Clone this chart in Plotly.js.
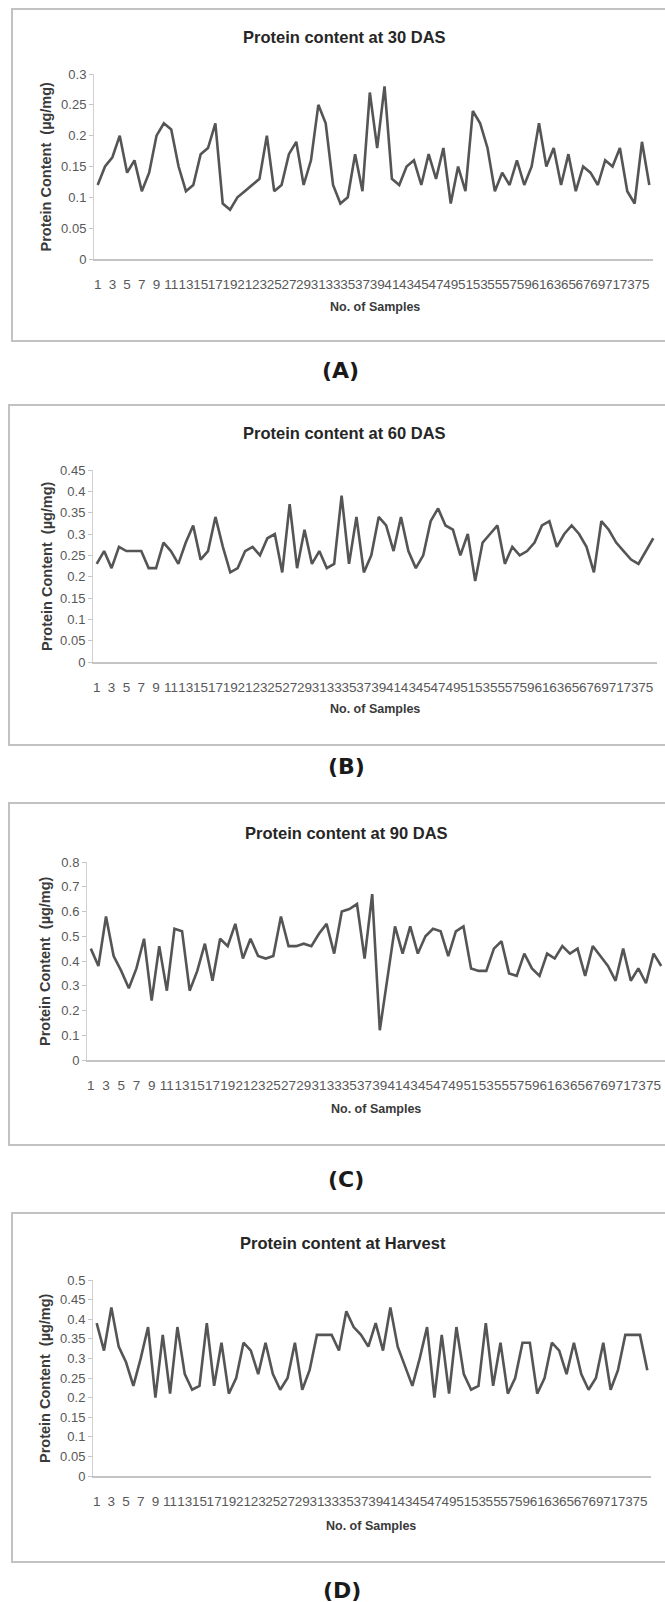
<!DOCTYPE html>
<html>
<head>
<meta charset="utf-8">
<script src="https://cdn.plot.ly/plotly-3.0.1.min.js"></script>
<style>
html,body{margin:0;padding:0;background:#fff;}
#chart{width:665px;height:1602px;}
</style>
</head>
<body>
<div id="chart"></div>
<script>
// ---- data ----
const samples = [1,2,3,4,5,6,7,8,9,10,11,12,13,14,15,16,17,18,19,20,21,22,23,24,25,26,27,28,29,30,31,32,33,34,35,36,37,38,39,40,41,42,43,44,45,46,47,48,49,50,51,52,53,54,55,56,57,58,59,60,61,62,63,64,65,66,67,68,69,70,71,72,73,74,75,76];
const tickVals = [1,3,5,7,9,11,13,15,17,19,21,23,25,27,29,31,33,35,37,39,41,43,45,47,49,51,53,55,57,59,61,63,65,67,69,71,73,75];
const tickLabels = ["1","3","5","7","9","11","13","15","17","19","21","23","25","27","29","31","33","35","37","39","41","43","45","47","49","51","53","55","57","59","61","63","65","67","69","71","73","75"];

const das30 = [0.12,0.15,0.165,0.2,0.14,0.16,0.11,0.14,0.2,0.22,0.21,0.15,0.11,0.12,0.17,0.18,0.22,0.09,0.08,0.1,0.11,0.12,0.13,0.2,0.11,0.12,0.17,0.19,0.12,0.16,0.25,0.22,0.12,0.09,0.1,0.17,0.11,0.27,0.18,0.28,0.13,0.12,0.15,0.16,0.12,0.17,0.13,0.18,0.09,0.15,0.11,0.24,0.22,0.18,0.11,0.14,0.12,0.16,0.12,0.15,0.22,0.15,0.18,0.12,0.17,0.11,0.15,0.14,0.12,0.16,0.15,0.18,0.11,0.09,0.19,0.12];
const das60 = [0.23,0.26,0.22,0.27,0.26,0.26,0.26,0.22,0.22,0.28,0.26,0.23,0.28,0.32,0.24,0.26,0.34,0.27,0.21,0.22,0.26,0.27,0.25,0.29,0.3,0.21,0.37,0.22,0.31,0.23,0.26,0.22,0.23,0.39,0.23,0.34,0.21,0.25,0.34,0.32,0.26,0.34,0.26,0.22,0.25,0.33,0.36,0.32,0.31,0.25,0.3,0.19,0.28,0.3,0.32,0.23,0.27,0.25,0.26,0.28,0.32,0.33,0.27,0.3,0.32,0.3,0.27,0.21,0.33,0.31,0.28,0.26,0.24,0.23,0.26,0.29];
const das90 = [0.45,0.38,0.58,0.42,0.36,0.29,0.37,0.49,0.24,0.46,0.28,0.53,0.52,0.28,0.36,0.47,0.32,0.49,0.46,0.55,0.41,0.49,0.42,0.41,0.42,0.58,0.46,0.46,0.47,0.46,0.51,0.55,0.43,0.6,0.61,0.63,0.41,0.67,0.12,0.33,0.54,0.43,0.54,0.43,0.5,0.53,0.52,0.42,0.52,0.54,0.37,0.36,0.36,0.45,0.48,0.35,0.34,0.43,0.37,0.34,0.43,0.41,0.46,0.43,0.45,0.34,0.46,0.42,0.38,0.32,0.45,0.32,0.37,0.31,0.43,0.38];
const harvest = [0.39,0.32,0.43,0.33,0.29,0.23,0.3,0.38,0.2,0.36,0.21,0.38,0.26,0.22,0.23,0.39,0.23,0.34,0.21,0.25,0.34,0.32,0.26,0.34,0.26,0.22,0.25,0.34,0.22,0.27,0.36,0.36,0.36,0.32,0.42,0.38,0.36,0.33,0.39,0.32,0.43,0.33,0.28,0.23,0.3,0.38,0.2,0.36,0.21,0.38,0.26,0.22,0.23,0.39,0.23,0.34,0.21,0.25,0.34,0.34,0.21,0.25,0.34,0.32,0.26,0.34,0.26,0.22,0.25,0.34,0.22,0.27,0.36,0.36,0.36,0.27];

const panelTitles = ["Protein content at 30 DAS","Protein content at 60 DAS","Protein content at 90 DAS","Protein content at Harvest"];
const panelLetters = ["(A)","(B)","(C)","(D)"];
const yTitle = "Protein Content  (µg/mg)";
const xTitle = "No. of Samples";
const yMax = [0.3,0.45,0.8,0.5];
const yStep = [0.05,0.05,0.1,0.05];
const series = [das30,das60,das90,harvest];

// ---- layout geometry (pixels in the 665x1602 page) ----
const W = 665, H = 1602;
const px = x => x / W;
const py = y => 1 - y / H;
const geo = [
  {x0:94, x1:653, yTop:74,  yBot:259,  box:[12,9,668,341],    title:[344,37],   xt:[375,307],  yt:46, lab:[340,370]},
  {x0:93, x1:657, yTop:470, yBot:662,  box:[9,405,668,745],   title:[344,433],  xt:[375,709],  yt:47, lab:[346,767]},
  {x0:87, x1:665, yTop:862, yBot:1060, box:[9,803,668,1145],  title:[346,833],  xt:[376,1109], yt:45, lab:[346,1179]},
  {x0:93, x1:651, yTop:1280,yBot:1476, box:[12,1213,668,1562],title:[343,1243], xt:[371,1526], yt:45, lab:[342,1590]}
];

const FONT = "Liberation Sans, Arial, sans-serif";
const data = [];
const layout = {
  width: W, height: H,
  margin: {l:0,r:0,t:0,b:0},
  paper_bgcolor: "#ffffff",
  plot_bgcolor: "rgba(0,0,0,0)",
  showlegend: false,
  shapes: [],
  annotations: []
};

for (let i = 0; i < 4; i++) {
  const g = geo[i];
  const sfx = i === 0 ? "" : String(i + 1);
  data.push({
    type: "scatter", mode: "lines",
    x: samples, y: series[i],
    xaxis: "x" + sfx, yaxis: "y" + sfx,
    line: {color: "#555555", width: 2.6},
    hoverinfo: "skip"
  });
  layout["xaxis" + sfx] = {
    domain: [px(g.x0), px(g.x1)],
    anchor: "y" + sfx,
    range: [0.5, 76.5],
    tickmode: "array", tickvals: tickVals, ticktext: tickLabels,
    tickangle: 0,
    ticks: "", showgrid: false, zeroline: false,
    showline: true, linecolor: "#c4c4c4", linewidth: 1.5,
    ticklabelstandoff: 12,
    tickfont: {family: FONT, size: 13.5, color: "#585858"},
    fixedrange: true
  };
  layout["yaxis" + sfx] = {
    domain: [py(g.yBot), py(g.yTop)],
    anchor: "x" + sfx,
    range: [0, yMax[i]],
    dtick: yStep[i], tick0: 0,
    ticks: "outside", ticklen: 4, tickcolor: "#c4c4c4", tickwidth: 1,
    showgrid: false, zeroline: false,
    showline: true, linecolor: "#d0d0d0", linewidth: 1,
    tickfont: {family: FONT, size: 13, color: "#585858"},
    fixedrange: true
  };
  // outer chart border
  layout.shapes.push({
    type: "rect", xref: "paper", yref: "paper",
    x0: px(g.box[0]), x1: px(g.box[2]), y0: py(g.box[3]), y1: py(g.box[1]),
    line: {color: "#c2c2c2", width: 2}, fillcolor: "rgba(0,0,0,0)"
  });
  // chart title
  layout.annotations.push({
    xref: "paper", yref: "paper", x: px(g.title[0]), y: py(g.title[1]),
    xanchor: "center", yanchor: "middle", showarrow: false,
    text: panelTitles[i],
    font: {family: FONT, size: 16.5, color: "#262626", weight: "bold"}
  });
  // x-axis title
  layout.annotations.push({
    xref: "paper", yref: "paper", x: px(g.xt[0]), y: py(g.xt[1]),
    xanchor: "center", yanchor: "middle", showarrow: false,
    text: xTitle,
    font: {family: FONT, size: 12.5, color: "#3a3a3a", weight: "bold"}
  });
  // y-axis title
  layout.annotations.push({
    xref: "paper", yref: "paper", x: px(g.yt), y: py((g.yTop + g.yBot) / 2),
    xanchor: "center", yanchor: "middle", showarrow: false, textangle: -90,
    text: yTitle,
    font: {family: FONT, size: 14.5, color: "#3a3a3a", weight: "bold"}
  });
  // panel letter
  layout.annotations.push({
    xref: "paper", yref: "paper", x: px(g.lab[0]), y: py(g.lab[1]),
    xanchor: "center", yanchor: "middle", showarrow: false,
    text: panelLetters[i],
    font: {family: "DejaVu Sans, sans-serif", size: 22, color: "#1a1a1a", weight: "bold"}
  });
}

Plotly.newPlot("chart", data, layout, {displayModeBar: false, staticPlot: true});
</script>
</body>
</html>
